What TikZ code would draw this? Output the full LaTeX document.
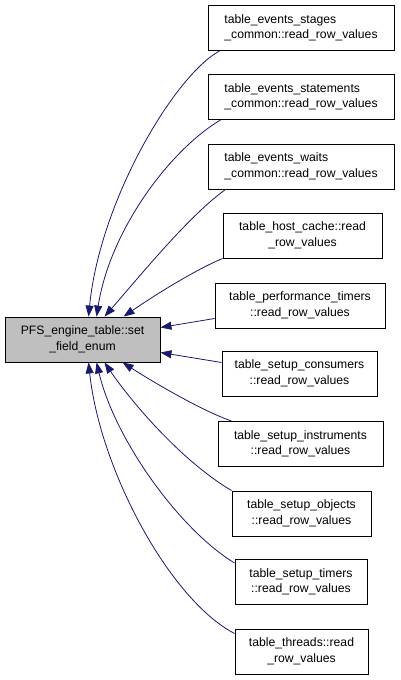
\documentclass[tikz,border=0pt]{standalone}
\usepackage{fontspec}
\setmainfont{Liberation Sans}
\usetikzlibrary{arrows.meta}
\definecolor{edgecol}{HTML}{191970}
\definecolor{mainfill}{HTML}{BFBFBF}
\begin{document}
\begin{tikzpicture}[x=1pt,y=-1pt,
  box/.style={draw=black,line width=0.9pt,fill=white,minimum height=45pt,inner sep=0pt,
    font=\fontsize{12.2}{15.5}\selectfont},
  mainbox/.style={box,fill=mainfill},
  edge/.style={draw=edgecol,line width=0.8pt,-{Triangle[length=11pt,width=8pt]}}]
\useasboundingbox (0,0) rectangle (400,680);
\node[mainbox,minimum width=155pt,align=center] (m) at (82.5,339.5) {PFS\_engine\_table::set\\\_field\_enum};
\node[box,minimum width=186pt,align=left] (b1) at (301,28) {table\_events\_stages\\\_common::read\_row\_values};
\node[box,minimum width=186pt,align=left] (b2) at (301,97) {table\_events\_statements\\\_common::read\_row\_values};
\node[box,minimum width=186pt,align=left] (b3) at (301,166.5) {table\_events\_waits\\\_common::read\_row\_values};
\node[box,minimum width=159pt,align=center] (b4) at (302.5,235.5) {table\_host\_cache::read\\\_row\_values};
\node[box,minimum width=170pt,align=center] (b5) at (300,305.5) {table\_performance\_timers\\::read\_row\_values};
\node[box,minimum width=155pt,align=center] (b6) at (299.5,373.5) {table\_setup\_consumers\\::read\_row\_values};
\node[box,minimum width=165pt,align=center] (b7) at (300.5,444) {table\_setup\_instruments\\::read\_row\_values};
\node[box,minimum width=139pt,align=center] (b8) at (301.5,513.5) {table\_setup\_objects\\::read\_row\_values};
\node[box,minimum width=132pt,align=center] (b9) at (301,582) {table\_setup\_timers\\::read\_row\_values};
\node[box,minimum width=133pt,align=center] (b10) at (301.5,651.5) {table\_threads::read\\\_row\_values};
% top edges
\draw[edge] ([xshift=12pt]b1.south west) .. controls (175,75) and (100,200) .. ([xshift=84pt]m.north west);
\draw[edge] ([xshift=13pt]b2.south west) .. controls (170,150) and (110,230) .. ([xshift=92pt]m.north west);
\draw[edge] ([xshift=18pt]b3.south west) .. controls (190,215) and (145,270) .. ([xshift=100pt]m.north west);
\draw[edge] (b4.south west) .. controls (195,270) and (155,295) .. ([xshift=119pt]m.north west);
% side edges
\draw[edge] ([yshift=-13pt]b5.west) -- ([yshift=12pt]m.east);
\draw[edge] ([yshift=11pt]b6.west) -- ([yshift=-13pt]m.east);
% bottom edges
\draw[edge] ([xshift=14pt]b7.north west) .. controls (200,410) and (150,380) .. ([xshift=118pt]m.south west);
\draw[edge] (b8.north west) .. controls (180,460) and (130,400) .. ([xshift=100pt]m.south west);
\draw[edge] ([yshift=19pt]b9.west) .. controls (180,530) and (115,440) .. ([xshift=92pt]m.south west);
\draw[edge] ([yshift=18pt]b10.west) .. controls (170,600) and (100,470) .. ([xshift=84pt]m.south west);
\end{tikzpicture}
\end{document}
